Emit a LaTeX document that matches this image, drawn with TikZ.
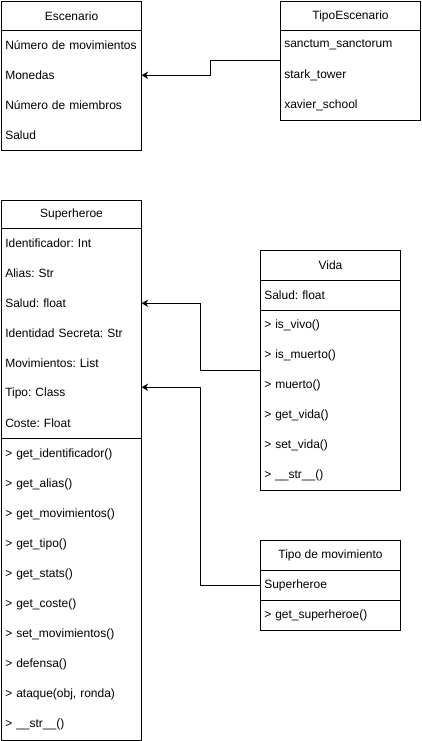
\documentclass[tikz,border=0pt]{standalone}
\usepackage{fontspec}
\setmainfont{Liberation Sans}
\usetikzlibrary{arrows.meta}

\newcommand{\rowfont}{\fontsize{9pt}{11pt}\selectfont\frenchspacing\hyphenpenalty=10000\relax}
\tikzset{
  box/.style={draw, rectangle, anchor=north west, minimum width=105pt, inner sep=0pt, line width=0.75pt},
  head/.style={draw, rectangle, anchor=north west, minimum width=105pt, minimum height=22.5pt, inner sep=0pt, line width=0.75pt, font=\rowfont},
  row/.style={rectangle, anchor=north west, text width=99pt, inner xsep=3pt, inner ysep=0pt, minimum height=22.5pt, align=left, font=\rowfont},
  sep/.style={line width=0.75pt},
  link/.style={-{Stealth[length=5pt,width=5.5pt]}, line width=0.75pt}
}

\begin{document}
\begin{tikzpicture}[x=0.75pt,y=-0.75pt]
\useasboundingbox (0,0) rectangle (421,741);
\begin{scope}[shift={(0,0)}]
\node[box, minimum height=111.75pt] (escenario) at (1,1) {};
\node[head, minimum height=21.75pt] (escenarioH) at (1,1) {Escenario};
\node[row] (esc1) at (1,30) {Número de movimientos};
\node[row] (esc2) at (1,60) {Monedas};
\node[row] (esc3) at (1,90) {Número de miembros};
\node[row] (esc4) at (1,120) {Salud};
\node[box, minimum height=89.25pt] (tipoesc) at (280,1) {};
\node[head, minimum height=21.75pt] (tipoescH) at (280,1) {TipoEscenario};
\node[row] (tesc1) at (280,30) {sanctum\_sanctorum};
\node[row] (tesc2) at (280,60) {stark\_tower};
\node[row] (tesc3) at (280,90) {xavier\_school};
\draw[link] (tipoesc.west) -- ++(-70,0) |- (esc2.east);
\end{scope}
\begin{scope}[shift={(0,0)}]
\node[box, minimum height=405pt] (superheroe) at (1,200) {};
\node[head, minimum height=21pt] (superheroeH) at (1,200) {Superheroe};
\node[row] (sup1) at (1,228) {Identificador: Int};
\node[row] (sup2) at (1,258) {Alias: Str};
\node[row] (sup3) at (1,288) {Salud: float};
\node[row] (sup4) at (1,318) {Identidad Secreta: Str};
\node[row] (sup5) at (1,348) {Movimientos: List};
\node[row] (sup6) at (1,378) {Tipo: Class};
\node[row] (sup7) at (1,408) {Coste: Float};
\draw[sep] (sup7.south west) -- (sup7.south east);
\node[row] (met1) at (1,439) {> get\_identificador()};
\node[row] (met2) at (1,469) {> get\_alias()};
\node[row] (met3) at (1,499) {> get\_movimientos()};
\node[row] (met4) at (1,529) {> get\_tipo()};
\node[row] (met5) at (1,559) {> get\_stats()};
\node[row] (met6) at (1,589) {> get\_coste()};
\node[row] (met7) at (1,619) {> set\_movimientos()};
\node[row] (met8) at (1,649) {> defensa()};
\node[row] (met9) at (1,679) {> ataque(obj, ronda)};
\node[row] (met10) at (1,709) {> \_\_str\_\_()};
\node[box, minimum height=180pt] (vida) at (260,250) {};
\node[head] (vidaH) at (260,250) {Vida};
\node[row] (vid1) at (260,280) {Salud: float};
\draw[sep] (vid1.south west) -- (vid1.south east);
\node[row] (vm1) at (260,310) {> is\_vivo()};
\node[row] (vm2) at (260,340) {> is\_muerto()};
\node[row] (vm3) at (260,370) {> muerto()};
\node[row] (vm4) at (260,400) {> get\_vida()};
\node[row] (vm5) at (260,430) {> set\_vida()};
\node[row] (vm6) at (260,460) {> \_\_str\_\_()};
\node[box, minimum height=67.5pt] (tipomov) at (260,540) {};
\node[head] (tipomovH) at (260,540) {Tipo de movimiento};
\node[row] (tm1) at (260,570) {Superheroe};
\draw[sep] (tm1.south west) -- (tm1.south east);
\node[row] (tm2) at (260,600) {> get\_superheroe()};
\draw[link] (vida.west) -- ++(-60,0) |- (sup3.east);
\draw[link] (tipomov.west) -- ++(-60,0) |- ([yshift=4.5pt]sup6.east);
\end{scope}
\end{tikzpicture}
\end{document}
